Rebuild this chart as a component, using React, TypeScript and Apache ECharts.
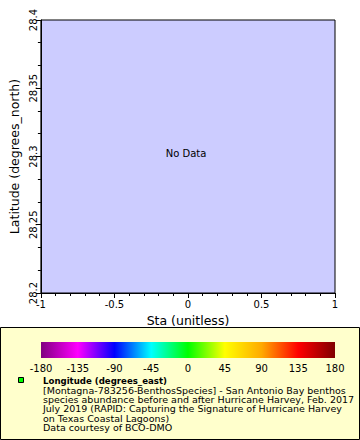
import React, { useEffect, useRef } from "react";
import * as echarts from "echarts";

const xTicks = [-1, -0.5, 0, 0.5, 1];
const yTicks = [28.2, 28.25, 28.3, 28.35, 28.4];
const colorbarTicks = [-180, -135, -90, -45, 0, 45, 90, 135, 180];
const colorbarColors = ["#800080", "#ff00ff", "#0000ff", "#00ffff", "#00ff00", "#ffff00", "#ffaa00", "#ff0000", "#800000"];
const legendTitle = "Longitude (degrees_east)";
const legendLines = [
  "[Montagna-783256-BenthosSpecies] - San Antonio Bay benthos",
  "species abundance before and after Hurricane Harvey, Feb. 2017",
  "July 2019 (RAPID: Capturing the Signature of Hurricane Harvey",
  "on Texas Coastal Lagoons)",
  "Data courtesy of BCO-DMO",
];
const noDataText = "No Data";

const FONT = "DejaVu Sans";
const fmt = (v: number) => String(Math.round(v * 1000) / 1000);

export default function App() {
  const ref = useRef<HTMLDivElement>(null);
  useEffect(() => {
    document.body.style.margin = "0";
    const chart = echarts.init(ref.current!, null, { renderer: "svg" });
    const gradStops = colorbarColors.map((c, i) => ({ offset: i / (colorbarColors.length - 1), color: c }));
    chart.setOption({
      animation: false,
      backgroundColor: "#ffffff",
      textStyle: { fontFamily: FONT },
      grid: [
        {
          left: 37, right: 25, top: 20, bottom: 147,
          show: true, backgroundColor: "#ccccff", borderColor: "#000", borderWidth: 1,
        },
        { left: 41, right: 25, top: 342, height: 16, show: false },
      ],
      xAxis: [
        {
          type: "value", gridIndex: 0, min: xTicks[0], max: xTicks[xTicks.length - 1],
          interval: xTicks[1] - xTicks[0],
          name: "Sta (unitless)", nameLocation: "middle", nameGap: 19,
          nameTextStyle: { fontSize: 12.5, color: "#000", fontFamily: FONT },
          axisLine: { show: true, onZero: false, lineStyle: { color: "#000" } },
          axisTick: { show: true, inside: false, length: 5, lineStyle: { color: "#000" } },
          minorTick: { show: true, splitNumber: 5, length: 3, lineStyle: { color: "#000" } },
          splitLine: { show: false },
          axisLabel: { fontSize: 10, color: "#000", margin: 6, formatter: fmt, fontFamily: FONT },
        },
        {
          type: "value", gridIndex: 1, min: colorbarTicks[0], max: colorbarTicks[colorbarTicks.length - 1],
          interval: colorbarTicks[1] - colorbarTicks[0],
          axisLine: { show: false }, axisTick: { show: false }, splitLine: { show: false },
          axisLabel: { fontSize: 10, color: "#000", margin: 5, fontFamily: FONT },
        },
      ],
      yAxis: [
        {
          type: "value", gridIndex: 0, min: yTicks[0], max: yTicks[yTicks.length - 1],
          interval: 0.05,
          name: "Latitude (degrees_north)", nameLocation: "middle", nameGap: 14, nameRotate: 90,
          nameTextStyle: { fontSize: 12.5, color: "#000", fontFamily: FONT },
          axisLine: { show: true, onZero: false, lineStyle: { color: "#000" } },
          axisTick: { show: true, inside: false, length: 5, lineStyle: { color: "#000" } },
          minorTick: { show: true, splitNumber: 3, length: 3, lineStyle: { color: "#000" } },
          splitLine: { show: false },
          axisLabel: { fontSize: 10, color: "#000", margin: 2, rotate: 90, formatter: fmt, fontFamily: FONT },
        },
        {
          type: "value", gridIndex: 1, min: 0, max: 1, show: false,
        },
      ],
      series: [
        { type: "scatter", xAxisIndex: 0, yAxisIndex: 0, data: [] },
        { type: "scatter", xAxisIndex: 1, yAxisIndex: 1, data: [] },
      ],
      graphic: [
        {
          type: "rect", z: -10, shape: { x: 0.5, y: 327.5, width: 359, height: 112 },
          style: { fill: "#ffffcc", stroke: "#000", lineWidth: 1 },
        },
        {
          type: "rect", z: 1, shape: { x: 41, y: 342, width: 294, height: 16 },
          style: { fill: new echarts.graphic.LinearGradient(0, 0, 1, 0, gradStops) },
        },
        {
          type: "text", x: 186, y: 153,
          style: { text: noDataText, fontSize: 10, fontFamily: FONT, fill: "#000", align: "center", verticalAlign: "middle" },
        },
        {
          type: "rect", shape: { x: 18.5, y: 377.5, width: 5, height: 5 },
          style: { fill: "#00ff00", stroke: "#000", lineWidth: 1 },
        },
        {
          type: "text", x: 43, y: 381,
          style: { text: legendTitle, fontSize: 8.6, fontWeight: "bold", fontFamily: FONT, fill: "#000", verticalAlign: "middle" },
        },
        ...legendLines.map((t, i) => ({
          type: "text", x: 43, y: 391 + i * 9.3, scaleX: 1.12,
          style: { text: t, fontSize: 8.5, fontFamily: FONT, fill: "#000", verticalAlign: "middle" },
        })),
      ],
    });
    return () => chart.dispose();
  }, []);
  return <div ref={ref} style={{ width: 360, height: 440 }} />;
}
